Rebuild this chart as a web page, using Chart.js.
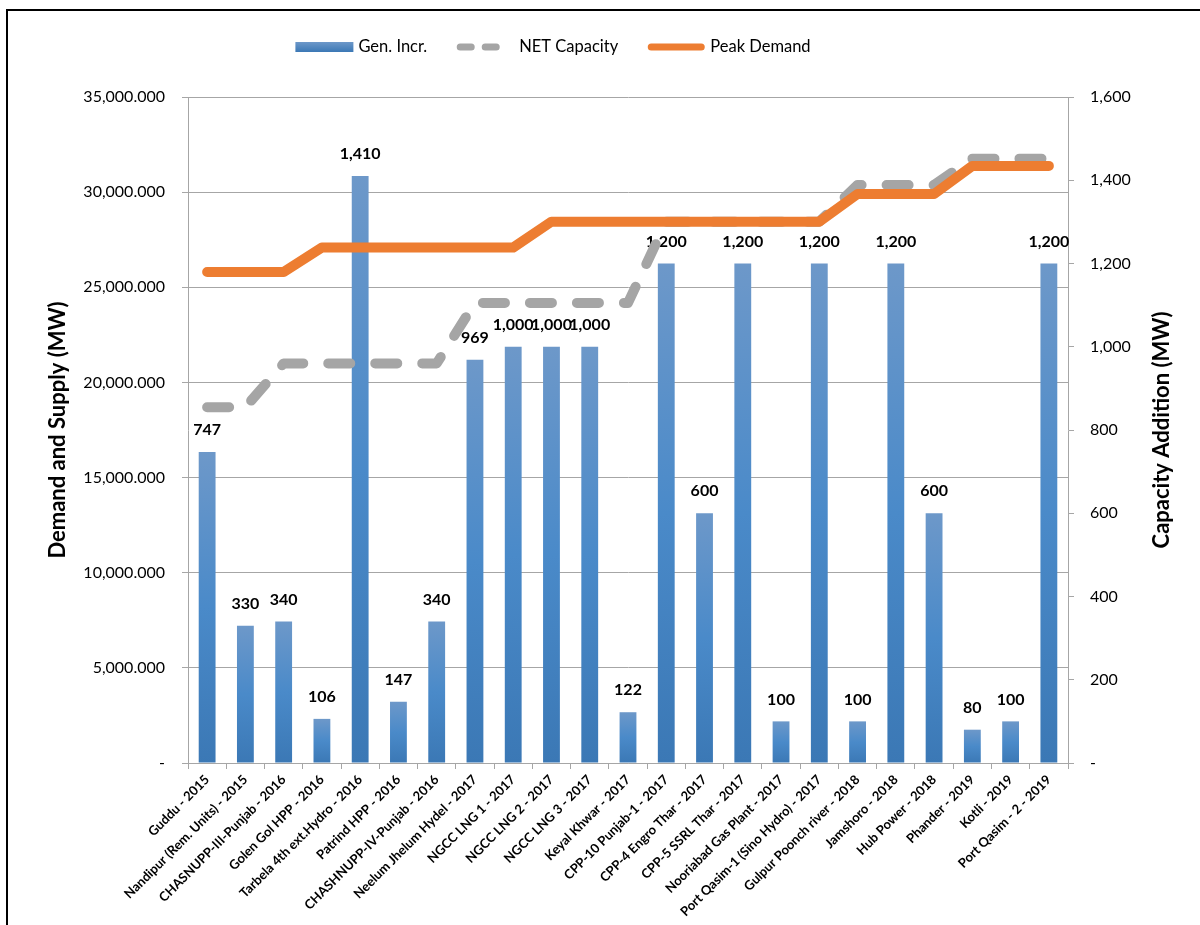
<!DOCTYPE html>
<html>
<head>
<meta charset="utf-8">
<title>Generation additions vs. demand and supply</title>
<script src="https://cdn.jsdelivr.net/npm/chart.js@4/dist/chart.umd.min.js"></script>
<style>
  html, body { margin: 0; padding: 0; background: #fff; overflow: hidden; }
  #wrap { position: relative; width: 1200px; height: 925px; }
  #frame { position: absolute; left: 6px; top: 9px; width: 1300px; height: 1000px;
           border-left: 2px solid #000; border-top: 2px solid #000; }
  #c { position: absolute; left: 0; top: 0; }
</style>
</head>
<body>
<div id="wrap">
  <div id="frame"></div>
  <canvas id="c" width="1200" height="925"></canvas>
</div>
<script>
// Projects commissioned, in order
const projects = [
  'Guddu - 2015',
  'Nandipur (Rem. Units) - 2015',
  'CHASNUPP-III-Punjab - 2016',
  'Golen Gol HPP - 2016',
  'Tarbela 4th ext.Hydro - 2016',
  'Patrind HPP - 2016',
  'CHASHNUPP-IV-Punjab - 2016',
  'Neelum Jhelum Hydel - 2017',
  'NGCC LNG 1 - 2017',
  'NGCC LNG 2 - 2017',
  'NGCC LNG 3 - 2017',
  'Keyal Khwar - 2017',
  'CPP-10 Punjab-1 - 2017',
  'CPP-4 Engro Thar - 2017',
  'CPP-5 SSRL Thar - 2017',
  'Nooriabad Gas Plant - 2017',
  'Port Qasim-1 (Sino Hydro) - 2017',
  'Gulpur Poonch river - 2018',
  'Jamshoro - 2018',
  'Hub Power - 2018',
  'Phander - 2019',
  'Kotli - 2019',
  'Port Qasim - 2 - 2019'
];

// Capacity added by each project (MW, right axis)
const genIncrease = [747, 330, 340, 106, 1410, 147, 340, 969, 1000, 1000, 1000, 122,
                     1200, 600, 1200, 100, 1200, 100, 1200, 600, 80, 100, 1200];

// Net system capacity after each addition (MW, left axis)
const netCapacity = [18700, 18700, 21000, 21000, 21000, 21000, 21000,
                     24180, 24180, 24180, 24180, 24180,
                     28450, 28450, 28450, 28450, 28450,
                     30380, 30380, 30380,
                     31760, 31760, 31760];

// Peak demand (MW, left axis)
const peakDemand = [25800, 25800, 25800,
                    27090, 27090, 27090, 27090, 27090, 27090,
                    28450, 28450, 28450, 28450, 28450, 28450, 28450, 28450,
                    29900, 29900, 29900,
                    31380, 31380, 31380];

// Axis ranges
const demandAxis = { min: 0, max: 35000, step: 5000 };
const capacityAxis = { min: 0, max: 1600, step: 200 };

const FONT = 'Lato, "Liberation Sans", "DejaVu Sans", sans-serif';
const GRID = '#a6a6a6';
const BAR_TOP = '#6d98c9', BAR_MID = '#4a8ac9', BAR_BOTTOM = '#3b78b5';
const NET_GREY = '#a5a5a5', PEAK_ORANGE = '#ed7d31';

const withCommas = n => String(Math.round(n)).replace(/\B(?=(\d{3})+(?!\d))/g, ',');

Chart.defaults.font.family = FONT;
Chart.defaults.color = '#000';

// Vertical gradient for each bar, running from its top to the baseline
function barFill(c) {
  const chart = c.chart;
  if (!chart.chartArea || c.type !== 'data' || !chart.scales.yCap) return BAR_MID;
  const s = chart.scales.yCap;
  const top = s.getPixelForValue(c.raw);
  const bottom = s.getPixelForValue(0);
  if (!isFinite(top) || !isFinite(bottom) || bottom - top < 1) return BAR_MID;
  const g = chart.ctx.createLinearGradient(0, top, 0, bottom);
  g.addColorStop(0, BAR_TOP);
  g.addColorStop(0.5, BAR_MID);
  g.addColorStop(1, BAR_BOTTOM);
  return g;
}

// Value labels above the bars, painted before the lines go on top
const barValueLabels = {
  id: 'barValueLabels',
  afterDatasetDraw(chart, args) {
    if (args.index !== 0) return;
    const ctx = chart.ctx;
    const values = chart.data.datasets[0].data;
    ctx.save();
    ctx.font = 'bold 16px ' + FONT;
    ctx.fillStyle = '#000';
    ctx.textAlign = 'center';
    ctx.textBaseline = 'middle';
    args.meta.data.forEach((bar, i) => {
      ctx.fillText(withCommas(values[i]), bar.x, bar.y - 22);
    });
    ctx.restore();
  }
};

// Right-hand axis title, reading bottom to top
const rightAxisTitle = {
  id: 'rightAxisTitle',
  afterDraw(chart) {
    const ctx = chart.ctx;
    const a = chart.chartArea;
    ctx.save();
    ctx.translate(1162, (a.top + a.bottom) / 2);
    ctx.rotate(-Math.PI / 2);
    ctx.font = 'bold 22px ' + FONT;
    ctx.fillStyle = '#000';
    ctx.textAlign = 'center';
    ctx.textBaseline = 'middle';
    ctx.fillText('Capacity Addition (MW)', 0, 0);
    ctx.restore();
  }
};

// Legend row across the top
const topLegend = {
  id: 'topLegend',
  afterDraw(chart) {
    const ctx = chart.ctx;
    const ds = chart.data.datasets;
    const y = 47, swatch = 58, textGap = 5, itemGap = 29, centre = 553;
    ctx.save();
    ctx.font = '16.5px ' + FONT;
    const widths = ds.map(d => ctx.measureText(d.label).width);
    const total = widths.reduce((s, w) => s + swatch + textGap + w, 0) + itemGap * (ds.length - 1);
    let x = centre - total / 2;
    ds.forEach((d, i) => {
      if (d.type === 'bar') {
        const g = ctx.createLinearGradient(0, y - 5, 0, y + 5);
        g.addColorStop(0, BAR_TOP);
        g.addColorStop(1, BAR_BOTTOM);
        ctx.fillStyle = g;
        ctx.fillRect(x, y - 5, swatch, 10);
      } else {
        ctx.strokeStyle = d.borderColor;
        ctx.lineWidth = 7;
        ctx.lineCap = 'round';
        ctx.setLineDash(d.borderDash ? [11, 14] : []);
        ctx.beginPath();
        ctx.moveTo(x + 4, y);
        ctx.lineTo(x + swatch - 4, y);
        ctx.stroke();
        ctx.setLineDash([]);
      }
      ctx.fillStyle = '#000';
      ctx.textAlign = 'left';
      ctx.textBaseline = 'middle';
      ctx.fillText(d.label, x + swatch + textGap, y);
      x += swatch + textGap + widths[i] + itemGap;
    });
    ctx.restore();
  }
};

new Chart(document.getElementById('c'), {
  type: 'bar',
  data: {
    labels: projects,
    datasets: [
      {
        type: 'bar',
        label: 'Gen. Incr.',
        data: genIncrease,
        yAxisID: 'yCap',
        backgroundColor: barFill,
        barPercentage: 0.44,
        categoryPercentage: 1,
        order: 3
      },
      {
        type: 'line',
        label: 'NET Capacity',
        data: netCapacity,
        yAxisID: 'y',
        borderColor: NET_GREY,
        borderWidth: 10,
        borderDash: [22, 25],
        borderCapStyle: 'round',
        borderJoinStyle: 'round',
        pointRadius: 0,
        tension: 0,
        order: 2
      },
      {
        type: 'line',
        label: 'Peak Demand',
        data: peakDemand,
        yAxisID: 'y',
        borderColor: PEAK_ORANGE,
        borderWidth: 10,
        borderCapStyle: 'round',
        borderJoinStyle: 'round',
        pointRadius: 0,
        tension: 0,
        order: 1
      }
    ]
  },
  options: {
    responsive: false,
    animation: false,
    devicePixelRatio: 1,
    layout: { padding: { top: 97, left: 0, right: 0, bottom: 0 } },
    plugins: { legend: { display: false }, tooltip: { enabled: false } },
    scales: {
      x: {
        grid: { offset: true, drawOnChartArea: false, tickLength: 6, color: GRID },
        border: { color: GRID },
        ticks: { autoSkip: false, minRotation: 45, maxRotation: 45, padding: 3,
                 font: { size: 13, weight: 'bold' } },
        afterFit(s) { s.height = 162; }
      },
      y: {
        position: 'left',
        min: demandAxis.min,
        max: demandAxis.max,
        ticks: { stepSize: demandAxis.step, padding: 17, font: { size: 16 },
                 callback: v => v === 0 ? '-' : withCommas(v) + '.000' },
        grid: { color: GRID, tickLength: 6 },
        border: { color: GRID },
        title: { display: true, text: 'Demand and Supply (MW)',
                 font: { size: 22, weight: 'bold' }, padding: { top: 45, bottom: 0 } },
        afterFit(s) { s.width = 188; }
      },
      yCap: {
        position: 'right',
        min: capacityAxis.min,
        max: capacityAxis.max,
        ticks: { stepSize: capacityAxis.step, padding: 16, font: { size: 16 },
                 callback: v => v === 0 ? '-' : withCommas(v) },
        grid: { drawOnChartArea: false, tickLength: 6, color: GRID },
        border: { color: GRID },
        afterFit(s) { s.width = 132; }
      }
    }
  },
  plugins: [barValueLabels, rightAxisTitle, topLegend]
});
</script>
</body>
</html>
